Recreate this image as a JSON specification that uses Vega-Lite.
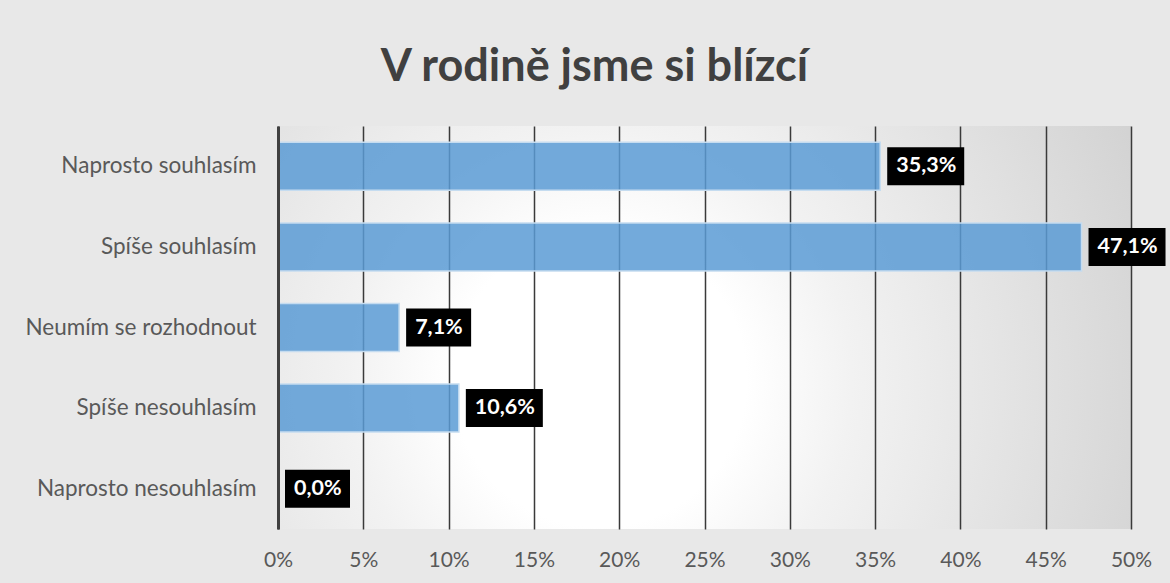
{
  "$schema": "https://vega.github.io/schema/vega-lite/v6.json",
  "autosize": {"type": "none"},
  "padding": {"left": 278, "top": 126, "right": 39, "bottom": 54},
  "width": 853,
  "height": 403,
  "background": "#e8e8e8",
  "title": {
    "text": "V rodině jsme si blízcí",
    "font": "Lato",
    "fontSize": 45,
    "fontWeight": "bold",
    "color": "#404040",
    "anchor": "middle",
    "frame": "group",
    "baseline": "alphabetic",
    "dx": -110,
    "offset": 0
  },
  "data": {
    "values": [
      {"odpoved": "Naprosto souhlasím", "podil": 0.353},
      {"odpoved": "Spíše souhlasím", "podil": 0.471},
      {"odpoved": "Neumím se rozhodnout", "podil": 0.071},
      {"odpoved": "Spíše nesouhlasím", "podil": 0.106},
      {"odpoved": "Naprosto nesouhlasím", "podil": 0.0}
    ]
  },
  "encoding": {
    "y": {
      "field": "odpoved",
      "type": "nominal",
      "sort": null,
      "title": null,
      "scale": {"paddingInner": 0.405, "paddingOuter": 0.2025},
      "axis": {
        "ticks": false,
        "labelFont": "Lato",
        "labelFontSize": 22.5,
        "labelColor": "#595959",
        "labelPadding": 22,
        "labelLimit": 400,
        "domainColor": "#404040",
        "domainWidth": 3,
        "zindex": 1,
        "grid": false
      }
    },
    "x": {
      "field": "podil",
      "type": "quantitative",
      "title": null,
      "scale": {"domain": [0, 0.5], "nice": false},
      "axis": {
        "format": ".0%",
        "values": [0, 0.05, 0.1, 0.15, 0.2, 0.25, 0.3, 0.35, 0.4, 0.45, 0.5],
        "domain": false,
        "ticks": false,
        "grid": true,
        "gridColor": "#3a3a3a",
        "gridWidth": 1.5,
        "gridOpacity": 1,
        "labelFont": "Lato",
        "labelFontSize": 21,
        "labelColor": "#595959",
        "labelPadding": 20,
        "labelFlush": false,
        "zindex": 0
      }
    }
  },
  "layer": [
    {
      "mark": {
        "type": "bar",
        "color": "#5b9bd5",
        "fillOpacity": 0.85,
        "stroke": "#c5dcf0",
        "strokeWidth": 1.5
      }
    },
    {
      "transform": [{"filter": "datum.podil >= 0.1"}],
      "mark": {
        "type": "bar",
        "color": "#000000",
        "height": 38,
        "xOffset": 7,
        "x2Offset": 84
      },
      "encoding": {
        "x2": {"field": "podil"}
      }
    },
    {
      "transform": [{"filter": "datum.podil < 0.1"}],
      "mark": {
        "type": "bar",
        "color": "#000000",
        "height": 38,
        "xOffset": 7,
        "x2Offset": 72
      },
      "encoding": {
        "x2": {"field": "podil"}
      }
    },
    {
      "mark": {
        "type": "text",
        "align": "left",
        "baseline": "middle",
        "dx": 16,
        "font": "Lato",
        "fontSize": 21.5,
        "fontWeight": "bold",
        "color": "#ffffff"
      },
      "encoding": {
        "text": {"field": "podil", "type": "quantitative", "format": ".1%"}
      }
    }
  ],
  "config": {
    "locale": {
      "number": {
        "decimal": ",",
        "thousands": " ",
        "grouping": [3],
        "currency": ["", " Kč"]
      }
    },
    "view": {
      "stroke": null,
      "fill": {
        "gradient": "radial",
        "x1": 0.377, "y1": 0.562, "r1": 0,
        "x2": 0.377, "y2": 0.562, "r2": 0.82,
        "stops": [
          {"offset": 0, "color": "#ffffff"},
          {"offset": 0.21, "color": "#ffffff"},
          {"offset": 0.36, "color": "#f2f2f2"},
          {"offset": 0.47, "color": "#ebebeb"},
          {"offset": 0.76, "color": "#d8d8d8"},
          {"offset": 1, "color": "#c8c8c8"}
        ]
      }
    }
  }
}
